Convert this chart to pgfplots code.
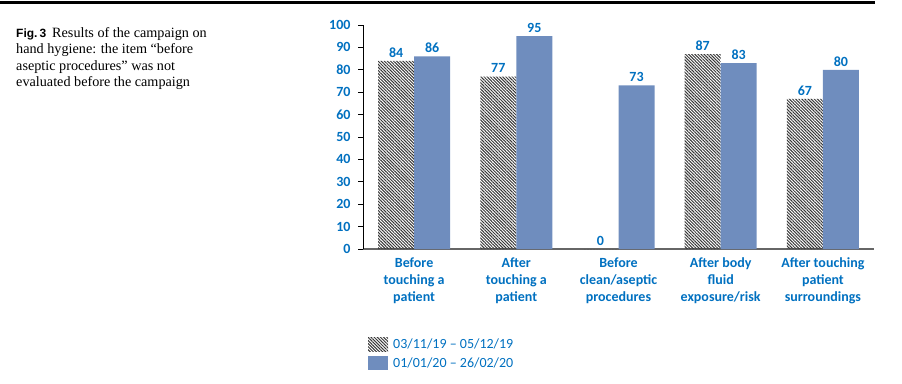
\documentclass[border=0pt]{standalone}
\usepackage{pgfplots}
\pgfplotsset{compat=1.18}
\usetikzlibrary{patterns.meta}
\usepackage{fontspec}
\setmainfont{Carlito}
\newfontfamily\timesfont{Liberation Serif}
\newfontfamily\arialfont{Liberation Sans}
\definecolor{barblue}{RGB}{111,141,190}
\definecolor{txtblue}{RGB}{0,112,192}
\definecolor{hatchc}{RGB}{55,55,55}
\begin{document}
\begin{tikzpicture}
\useasboundingbox (0,0) rectangle (902pt,383pt);
\fill[black] (0pt,378.5pt) rectangle (875pt,381.5pt);
\node[anchor=north west, align=left, inner sep=0pt, font=\timesfont\fontsize{14.2}{16.6}\selectfont] at (16pt,356pt) {{\arialfont\bfseries\fontsize{12}{16.6}\selectfont Fig.\,3}\hspace{6pt}Results of the campaign on\\hand hygiene: the item “before\\aseptic procedures” was not\\evaluated before the campaign};
\begin{axis}[
  at={(363pt,134pt)}, anchor=south west,
  scale only axis, width=511pt, height=224pt,
  ybar=0pt, bar width=36pt,
  xmin=-0.5, xmax=4.5, ymin=0, ymax=100,
  xtick={0,1,2,3,4},
  xticklabels={Before\\touching a\\patient, After\\touching a\\patient, Before\\clean/aseptic\\procedures, After body\\fluid\\exposure/risk, After touching\\patient\\surroundings},
  xticklabel style={align=center, font=\fontsize{14}{17}\selectfont\bfseries, text=txtblue},
  xtick style={draw=none},
  ytick={0,10,...,100},
  yticklabel style={font=\fontsize{14}{17}\selectfont\bfseries, text=txtblue, xshift=-4pt},
  /pgf/number format/assume math mode=true,
  tick align=outside, major tick length=5pt,
  ytick style={black, line width=0.8pt},
  axis x line*=bottom, axis y line*=left,
  x axis line style={-, draw=black!60, line width=1.3pt},
  y axis line style={-, draw=black, line width=0.8pt},
  nodes near coords,
  nodes near coords style={font=\fontsize{14}{17}\selectfont\bfseries, text=txtblue},
  legend image code/.code={\path[#1] (0pt,-7pt) rectangle (20pt,7pt);},
  legend cell align=left,
  legend style={at={(0.0098,-0.393)}, anchor=north west, draw=none, fill=none, inner sep=0pt, row sep=3pt,
    nodes={font=\fontsize{14}{17}\selectfont, text=txtblue, inner sep=2pt},
    column sep=3pt},
]
\addplot[draw=none, pattern={Lines[angle=-45,distance=2.2pt,line width=1pt]}, pattern color=hatchc]
  coordinates {(0,84) (1,77) (2,0) (3,87) (4,67)};
\addplot[draw=none, fill=barblue]
  coordinates {(0,86) (1,95) (2,73) (3,83) (4,80)};
\legend{03/11/19 -- 05/12/19, 01/01/20 -- 26/02/20}
\end{axis}
\end{tikzpicture}
\end{document}
